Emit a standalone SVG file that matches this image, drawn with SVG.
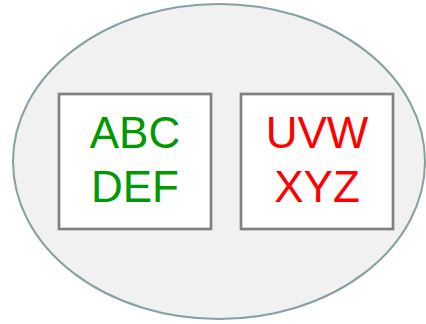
<svg xmlns="http://www.w3.org/2000/svg" width="426" height="324" viewBox="0 0 426 324">
<style>
.box{fill:#ffffff;stroke:#808080;stroke-width:2.7}
.t{font-family:"Liberation Sans",Arial,sans-serif;font-size:44px;text-anchor:middle}
</style>
<rect width="426" height="324" fill="#ffffff"/>
<g id="container">
<ellipse cx="219" cy="161.5" rx="206" ry="157.5" fill="#f1f1f1" stroke="#87a0a2" stroke-width="2"/>
</g>
<g id="node-abc">
<rect class="box" x="59" y="94" width="152" height="135"/>
<text class="t" x="135" y="147.5" fill="#009900">ABC</text>
<text class="t" x="135" y="201.5" fill="#009900">DEF</text>
</g>
<g id="node-uvw">
<rect class="box" x="241" y="94" width="152" height="135"/>
<text class="t" x="317" y="147.5" fill="#ff0000">UVW</text>
<text class="t" x="317" y="201.5" fill="#ff0000">XYZ</text>
</g>
<g id="connectors"></g>
</svg>
